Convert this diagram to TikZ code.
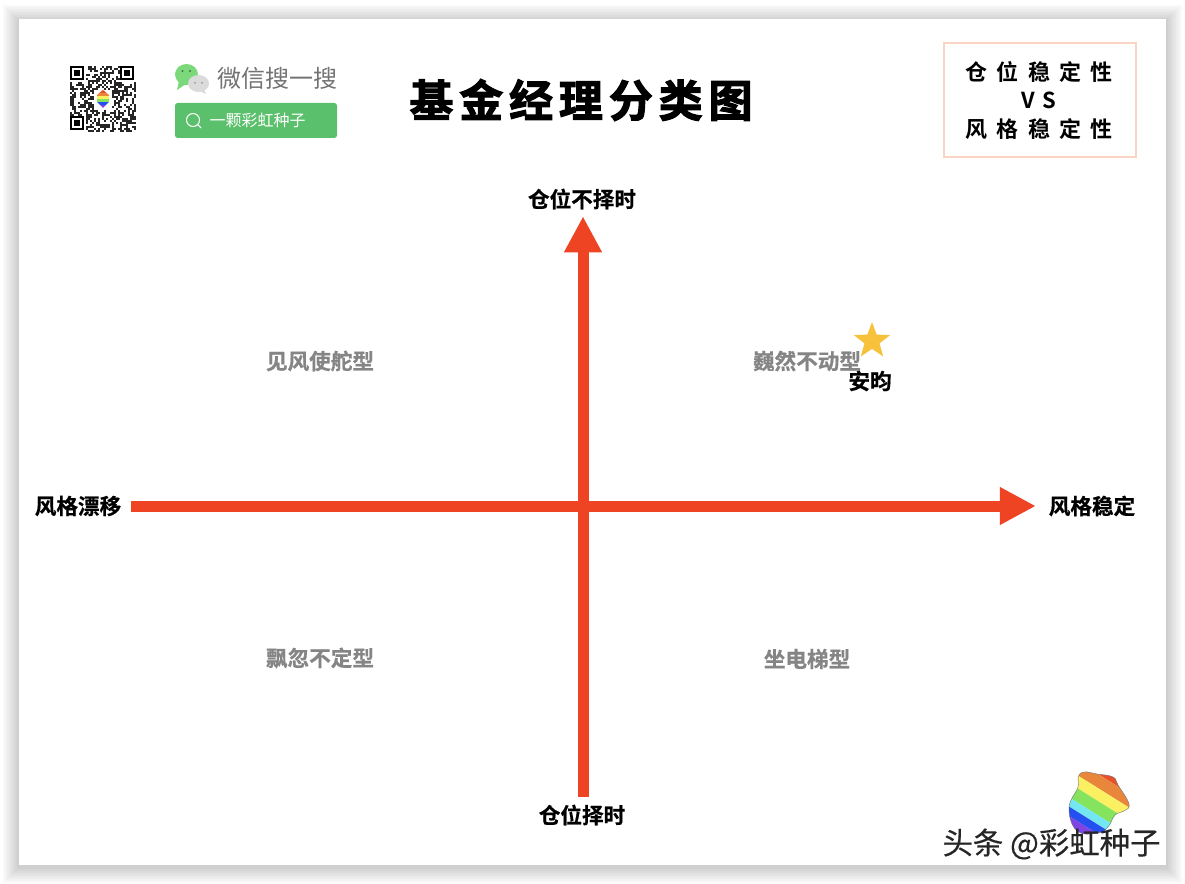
\documentclass[tikz,border=0pt]{standalone}
\usepackage{fontspec}
\usetikzlibrary{arrows.meta,shapes.geometric}
\setmainfont{Noto Sans CJK SC}[BoldFont=* Bold]
\newfontfamily\titlefont{Noto Sans CJK SC Bold}[FakeBold=2.5]
\newfontfamily\labelfont{Noto Sans CJK SC Bold}[FakeBold=0.6]
\newfontfamily\markfont{Noto Sans CJK SC}[FakeBold=0.3]
\definecolor{axisred}{HTML}{EE4423}
\definecolor{wgreen}{HTML}{5BC06C}
\definecolor{wechat}{HTML}{7BD87B}
\definecolor{quadgray}{HTML}{858585}
\definecolor{boxedge}{HTML}{F9D3C4}
\definecolor{starcol}{HTML}{F8C13C}
\definecolor{acred}{HTML}{E8502C}
\definecolor{acorange}{HTML}{E8873C}
\definecolor{acyellow}{HTML}{FBEF62}
\definecolor{acgreen}{HTML}{86E35E}
\definecolor{accyan}{HTML}{74E6F2}
\definecolor{acblue}{HTML}{2450F0}
\definecolor{acviolet}{HTML}{7F45E4}
\tikzset{
  x=0.75pt,y=-0.75pt,
  axislabel/.style={inner sep=0pt,minimum height=27pt,font=\labelfont\fontsize{16.2}{18}\selectfont,text=black},
  quadlabel/.style={inner sep=0pt,font=\labelfont\fontsize{16.2}{18}\selectfont,text=quadgray},
  axisline/.style={draw=axisred,line width=8.25pt,-{Triangle[length=27pt,width=26.5pt,fill=axisred]}},
}
\begin{document}
\begin{tikzpicture}
\useasboundingbox (0,0) rectangle (1185,884);
\fill[white] (0,0) rectangle (1185,884);
% card shadow
\foreach \d in {16,14,12,10,8,6,4,2}{
  \fill[black,opacity=.022] (19-\d,19-\d+2) rectangle (1166+\d,865+\d+2);
}
\fill[white] (19,19) rectangle (1166,865);
% QR code
\pgfmathsetseed{4217}
\begin{scope}[shift={(70,66)},x=1.5pt,y=-1.5pt]
  \foreach \i in {0,...,32}{\foreach \j in {0,...,32}{
    \pgfmathtruncatemacro{\v}{int(2*rnd)}
    \ifnum\v=1 \fill[black!85] (\i,\j) rectangle +(1,1);\fi
  }}
  \foreach \a/\b in {0/0,25/0,0/25}{
    \fill[white] (\a-0.0,\b-0.0) rectangle +(8,8);
    \fill[black] (\a,\b) rectangle +(7,7);
    \fill[white] (\a+1,\b+1) rectangle +(5,5);
    \fill[black] (\a+2,\b+2) rectangle +(3,3);
  }
  \fill[white] (12,12) rectangle (21,22);
\end{scope}
\begin{scope}
  \clip (103,90) -- (109,95) -- (109,102) -- (103,108) -- (97,102) -- (97,95) -- cycle;
  \fill[acred] (96,89) rectangle (110,93);
  \fill[acorange] (96,93) rectangle (110,96);
  \fill[acyellow] (96,96) rectangle (110,99);
  \fill[acgreen] (96,99) rectangle (110,102);
  \fill[acblue] (96,102) rectangle (110,105);
  \fill[acviolet] (96,105) rectangle (110,109);
\end{scope}
% WeChat search badge
\fill[wechat] (186.5,74.5) ellipse [x radius=11.5,y radius=10.5];
\fill[wechat] (179,81) -- (177,90) -- (186,84) -- cycle;
\fill[black!14] (198.5,83.5) ellipse [x radius=10.5,y radius=8.5];
\fill[black!14] (204,89) -- (206,94) -- (199,91) -- cycle;
\fill[black!45!wechat] (182.5,71) circle (1.1) (190,71) circle (1.1);
\fill[black!40] (195,83) circle (1) (202,83) circle (1);
\node[inner sep=0pt,text=black!55] (wsearch) at (277,78) {\fontsize{18}{20}\selectfont 微信搜一搜};
\node[fill=wgreen,rounded corners=2pt,minimum width=121.5pt,minimum height=26.25pt,inner sep=0pt] (sbox) at (256,120.5) {};
\draw[white,line width=0.8pt] (193,120) circle (6.5) (197.5,124.5) -- (201,128);
\node[inner sep=0pt,text=white] (sname) at (257.5,120) {\fontsize{12}{14}\selectfont 一颗彩虹种子};
% title
\node[inner sep=0pt] (title) at (581,100) {\titlefont\fontsize{33}{36}\selectfont 基\hspace{4.4pt}金\hspace{4.4pt}经\hspace{4.4pt}理\hspace{4.4pt}分\hspace{4.4pt}类\hspace{4.4pt}图};
% top right box
\node[draw=boxedge,line width=1.2pt,minimum width=144pt,minimum height=85.5pt,inner sep=0pt] (vsbox) at (1040,100) {};
\node[inner sep=0pt] (vsa) at (1039,71.5) {\fontsize{16.5}{18}\selectfont\bfseries 仓\hspace{7pt}位\hspace{7pt}稳\hspace{7pt}定\hspace{7pt}性};
\node[inner sep=0pt] (vsb) at (1039,100.5) {\fontsize{16.5}{18}\selectfont\bfseries V\hspace{6pt}S};
\node[inner sep=0pt] (vsc) at (1039,129.5) {\fontsize{16.5}{18}\selectfont\bfseries 风\hspace{7pt}格\hspace{7pt}稳\hspace{7pt}定\hspace{7pt}性};
% axis labels
\node[axislabel] (left) at (78,506) {风格漂移};
\node[axislabel] (right) at (1092,506) {风格稳定};
\node[axislabel] (top) at (582,199) {仓位不择时};
\node[axislabel] (bottom) at (582,815) {仓位择时};
% axes
\draw[axisline,shorten <=7.5pt,shorten >=9.5pt] (left.east) -- (right.west);
\draw[axisline,shorten >=-0.75pt] ([xshift=0.75pt]bottom.north) -- ([xshift=0.75pt]top.south);
% quadrants
\node[quadlabel] (q1) at (320,361) {见风使舵型};
\node[quadlabel] (q2) at (807,361) {巍然不动型};
\node[quadlabel] (q3) at (320,658) {飘忽不定型};
\node[quadlabel] (q4) at (807,659) {坐电梯型};
% star
\node[star,star points=5,star point ratio=2.4,fill=starcol,minimum size=28.5pt,inner sep=0pt] (star) at (872,341) {};
\node[axislabel,minimum height=0pt] (anxu) at (870,381) {安昀};
% acorn logo
\begin{scope}
  \clip plot[smooth cycle,tension=0.7] coordinates {(1084,772) (1097,774) (1113,777) (1118,785) (1129,804) (1124,811) (1115,815) (1108,827) (1098,833) (1077,831) (1069,808) (1078,787) (1078,777)};
  \begin{scope}[shift={(1100,800)},rotate=-32]
    \fill[acred] (-60,-60) rectangle (60,-21);
    \fill[acorange] (-60,-21) rectangle (60,-9);
    \fill[acyellow] (-60,-9) rectangle (60,2);
    \fill[acgreen] (-60,2) rectangle (60,14);
    \fill[accyan] (-60,14) rectangle (60,22);
    \fill[acblue] (-60,22) rectangle (60,30);
    \fill[acviolet] (-60,30) rectangle (60,60);
  \end{scope}
\end{scope}
\draw[black!55,line width=0.3pt] plot[smooth cycle,tension=0.7] coordinates {(1084,772) (1097,774) (1113,777) (1118,785) (1129,804) (1124,811) (1115,815) (1108,827) (1098,833) (1077,831) (1069,808) (1078,787) (1078,777)};
\node[inner sep=0pt,text=black!85] (mark) at (1051.5,844) {\markfont\fontsize{22.8}{24}\selectfont 头条 @彩虹种子};
\end{tikzpicture}
\end{document}
